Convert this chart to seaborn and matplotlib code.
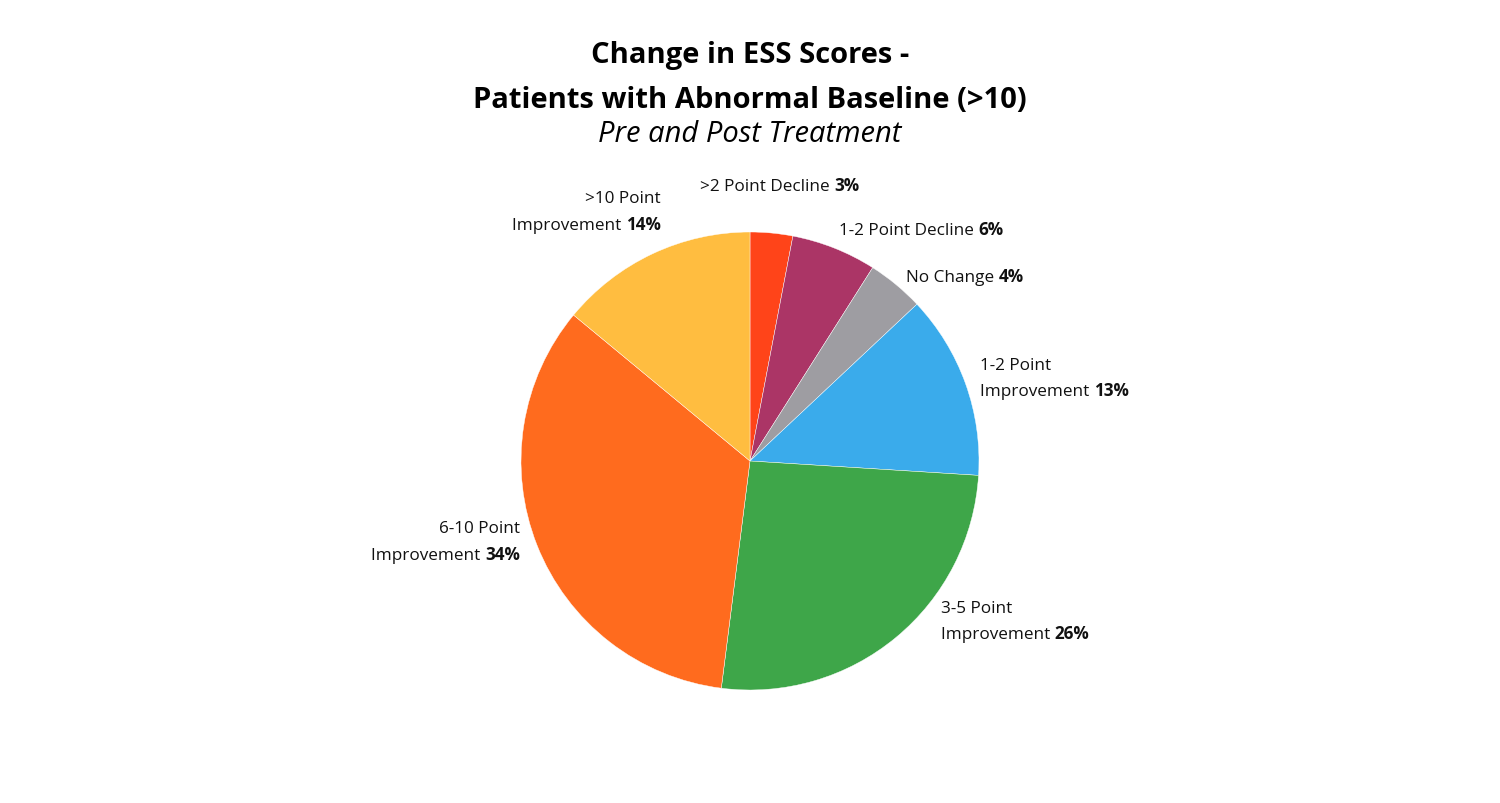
import matplotlib
matplotlib.use("Agg")
import matplotlib.pyplot as plt
import seaborn as sns

# slices, clockwise from 12 o'clock
categories = [
    ">2 Point Decline",
    "1-2 Point Decline",
    "No Change",
    "1-2 Point Improvement",
    "3-5 Point Improvement",
    "6-10 Point Improvement",
    ">10 Point Improvement",
]
percentages = [3, 6, 4, 13, 26, 34, 14]
slice_colors = ["#FF4419", "#AB3566", "#9E9DA2", "#3AABEB", "#3EA649", "#FF6B1E", "#FFBD40"]

# how each label is broken into lines (last line gets the bold percent)
label_lines = [
    [">2 Point Decline"],
    ["1-2 Point Decline"],
    ["No Change"],
    ["1-2 Point", "Improvement"],
    ["3-5 Point", "Improvement"],
    ["6-10 Point", "Improvement"],
    [">10 Point", "Improvement"],
]
# label anchor (x, y of first line center) in pie-radius units, and alignment
label_pos = [
    (-0.218, 1.200, "left"),
    (0.389, 1.009, "left"),
    (0.681, 0.803, "left"),
    (1.004, 0.419, "left"),
    (0.834, -0.642, "left"),
    (-1.004, -0.293, "right"),
    (-0.389, 1.148, "right"),
]

sns.set_theme(style="white")
plt.rcParams["font.family"] = ["Open Sans", "DejaVu Sans"]

TXT = 12.3
LINE = 26 / 229


def draw_label(ax, lines, pct, x, y, ha):
    for i, line in enumerate(lines):
        yy = y - i * LINE
        last = i == len(lines) - 1
        if not last:
            ax.text(x, yy, line, ha=ha, va="center", fontsize=TXT, color="#111111")
        elif ha == "left":
            t = ax.text(x, yy, line + " ", ha="left", va="center", fontsize=TXT, color="#111111")
            ax.annotate(f"{pct}%", xy=(1, 0), xycoords=t, ha="left", va="bottom",
                        fontsize=TXT, fontweight="bold", color="#111111")
        else:
            t = ax.text(x, yy, f"{pct}%", ha="right", va="center", fontsize=TXT,
                        fontweight="bold", color="#111111")
            ax.annotate(line + " ", xy=(0, 0), xycoords=t, ha="right", va="bottom",
                        fontsize=TXT, color="#111111")


fig = plt.figure(figsize=(15, 8.04), dpi=100)
ax = fig.add_axes([0, 0, 1, 1])

ax.pie(percentages, colors=slice_colors, startangle=90, counterclock=False, radius=1,
       wedgeprops=dict(edgecolor="white", linewidth=0.3))

for lines, pct, (x, y, ha) in zip(label_lines, percentages, label_pos):
    draw_label(ax, lines, pct, x, y, ha)

# 1 data unit = 229 px, pie centre at (750, 462) px
ax.set_xlim(-750 / 229, 750 / 229)
ax.set_ylim(-342 / 229, 462 / 229)
ax.set_aspect("auto")
ax.axis("off")

fig.text(0.5, 1 - 55 / 804, "Change in ESS Scores -", ha="center", va="center",
         fontsize=21, fontweight="bold", color="black")
fig.text(0.5, 1 - 100 / 804, "Patients with Abnormal Baseline (>10)", ha="center", va="center",
         fontsize=21, fontweight="bold", color="black")
fig.text(0.5, 1 - 135 / 804, "Pre and Post Treatment", ha="center", va="center",
         fontsize=21, fontstyle="italic", color="black")

fig.savefig("out.png", dpi=100, facecolor="white")
